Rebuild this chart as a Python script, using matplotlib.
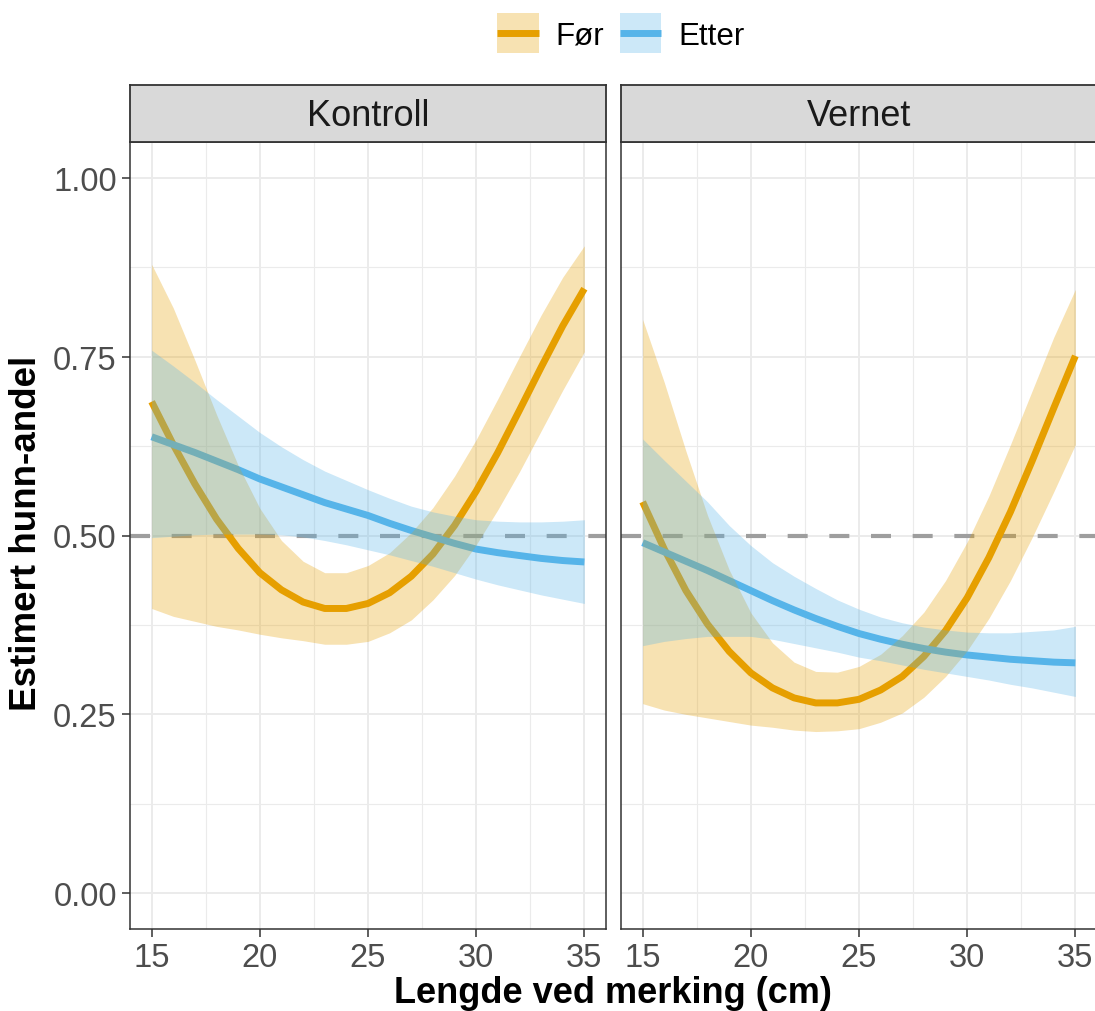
import matplotlib
matplotlib.use("Agg")
import matplotlib.pyplot as plt
from matplotlib.patches import Rectangle
from matplotlib.lines import Line2D
from matplotlib.legend_handler import HandlerBase

plt.rcParams['font.family'] = ['Liberation Sans', 'DejaVu Sans']

# lengde ved merking (cm)
lengde = [15, 16, 17, 18, 19, 20, 21, 22, 23, 24, 25,
          26, 27, 28, 29, 30, 31, 32, 33, 34, 35]

# Kontroll
kontroll_for = [0.687, 0.627, 0.572, 0.523, 0.482, 0.448, 0.424, 0.407, 0.398, 0.398, 0.405,
                0.420, 0.443, 0.474, 0.514, 0.562, 0.616, 0.675, 0.735, 0.793, 0.845]
kontroll_for_lo = [0.398, 0.387, 0.380, 0.373, 0.368, 0.362, 0.357, 0.353, 0.348, 0.348, 0.352,
                   0.364, 0.382, 0.410, 0.444, 0.487, 0.536, 0.589, 0.646, 0.703, 0.757]
kontroll_for_hi = [0.879, 0.818, 0.745, 0.669, 0.598, 0.538, 0.493, 0.464, 0.448, 0.448, 0.458,
                   0.476, 0.504, 0.539, 0.583, 0.634, 0.691, 0.750, 0.808, 0.861, 0.905]
kontroll_etter = [0.638, 0.627, 0.616, 0.604, 0.592, 0.579, 0.568, 0.557, 0.546, 0.537, 0.528,
                  0.517, 0.507, 0.498, 0.489, 0.481, 0.476, 0.472, 0.468, 0.465, 0.463]
kontroll_etter_lo = [0.497, 0.499, 0.501, 0.502, 0.502, 0.502, 0.501, 0.498, 0.493, 0.487, 0.480,
                     0.473, 0.465, 0.457, 0.448, 0.439, 0.431, 0.424, 0.417, 0.411, 0.405]
kontroll_etter_hi = [0.759, 0.737, 0.714, 0.690, 0.667, 0.644, 0.624, 0.606, 0.590, 0.577, 0.564,
                     0.552, 0.541, 0.533, 0.527, 0.522, 0.520, 0.519, 0.519, 0.520, 0.522]

# Vernet
vernet_for = [0.547, 0.481, 0.423, 0.376, 0.338, 0.308, 0.287, 0.273, 0.266, 0.266, 0.271,
              0.284, 0.303, 0.331, 0.367, 0.413, 0.469, 0.533, 0.604, 0.678, 0.751]
vernet_for_lo = [0.265, 0.256, 0.250, 0.245, 0.240, 0.235, 0.232, 0.228, 0.226, 0.227, 0.230,
                 0.239, 0.252, 0.274, 0.303, 0.339, 0.384, 0.437, 0.497, 0.561, 0.627]
vernet_for_hi = [0.802, 0.714, 0.618, 0.528, 0.452, 0.392, 0.350, 0.323, 0.310, 0.309, 0.317,
                 0.334, 0.360, 0.393, 0.437, 0.491, 0.555, 0.627, 0.702, 0.777, 0.844]
vernet_etter = [0.490, 0.477, 0.464, 0.451, 0.437, 0.423, 0.409, 0.396, 0.384, 0.373, 0.363,
                0.355, 0.348, 0.342, 0.337, 0.333, 0.330, 0.327, 0.325, 0.323, 0.322]
vernet_etter_lo = [0.346, 0.352, 0.356, 0.359, 0.359, 0.359, 0.355, 0.349, 0.343, 0.337, 0.330,
                   0.325, 0.319, 0.313, 0.308, 0.303, 0.298, 0.292, 0.287, 0.281, 0.275]
vernet_etter_hi = [0.635, 0.605, 0.576, 0.547, 0.514, 0.486, 0.462, 0.443, 0.426, 0.410, 0.397,
                   0.386, 0.378, 0.372, 0.368, 0.365, 0.364, 0.364, 0.366, 0.368, 0.373]

orange = "#E69F00"
blue = "#56B4E9"

W, H = 1095, 1012
fig = plt.figure(figsize=(W / 100, H / 100), dpi=100)


def box(x0, y0, x1, y1):
    return [x0 / W, 1 - y1 / H, (x1 - x0) / W, (y1 - y0) / H]


panels = [
    ("Kontroll", 130, kontroll_for, kontroll_for_lo, kontroll_for_hi,
     kontroll_etter, kontroll_etter_lo, kontroll_etter_hi),
    ("Vernet", 621, vernet_for, vernet_for_lo, vernet_for_hi,
     vernet_etter, vernet_etter_lo, vernet_etter_hi),
]

for i, (name, left, f, flo, fhi, e, elo, ehi) in enumerate(panels):
    ax = fig.add_axes(box(left, 143, left + 476, 930))
    ax.set_xlim(14, 36)
    ax.set_ylim(-0.05, 1.05)
    ax.set_xticks([15, 20, 25, 30, 35])
    ax.set_xticks([17.5, 22.5, 27.5, 32.5], minor=True)
    ax.set_yticks([0, 0.25, 0.5, 0.75, 1.0])
    ax.set_yticklabels(["0.00", "0.25", "0.50", "0.75", "1.00"])
    ax.set_yticks([0.125, 0.375, 0.625, 0.875], minor=True)
    ax.grid(which="major", color="#EBEBEB", lw=1.4)
    ax.grid(which="minor", color="#EBEBEB", lw=0.8)
    ax.set_axisbelow(True)
    ax.tick_params(which="minor", length=0)
    ax.tick_params(which="major", length=5.5, width=1.1, color="#333333",
                   labelcolor="#4D4D4D", labelsize=23.5, pad=4)
    for sp in ax.spines.values():
        sp.set_color("#333333")
        sp.set_linewidth(1.1)
    if i == 1:
        ax.tick_params(axis="y", left=False, labelleft=False)

    ax.axhline(0.5, color="#9E9E9E", lw=3, ls=(0, (4.8, 5.2)), zorder=1)
    ax.plot(lengde, f, color=orange, lw=5.0, solid_capstyle="butt", zorder=2)
    ax.plot(lengde, e, color=blue, lw=5.0, solid_capstyle="butt", zorder=2)
    ax.fill_between(lengde, flo, fhi, color=orange, alpha=0.3, lw=0, zorder=3)
    ax.fill_between(lengde, elo, ehi, color=blue, alpha=0.3, lw=0, zorder=3)

    sax = fig.add_axes(box(left, 86, left + 476, 143))
    sax.set_facecolor("#D9D9D9")
    sax.set_xticks([])
    sax.set_yticks([])
    for sp in sax.spines.values():
        sp.set_color("#333333")
        sp.set_linewidth(1.3)
    sax.text(0.5, 0.47, name, ha="center", va="center", fontsize=26,
             color="#1A1A1A", transform=sax.transAxes)

fig.text(613 / W, 1 - 1003 / H, "Lengde ved merking (cm)", ha="center",
         va="baseline", fontsize=26, fontweight="bold")
fig.text(27 / W, 1 - 533 / H, "Estimert hunn-andel", ha="center", va="center",
         rotation=90, fontsize=26.5, fontweight="bold")


class KeyHandler(HandlerBase):
    # ribbon square with the line through its middle, centred on the label
    def create_artists(self, legend, orig_handle, xdescent, ydescent,
                       width, height, fontsize, trans):
        c = orig_handle.get_color()
        yc = 0.36 * fontsize
        rect = Rectangle((-xdescent, yc - 14.4), width, 28.8, facecolor=c,
                         alpha=0.3, edgecolor="none", transform=trans)
        line = Line2D([-xdescent, -xdescent + width], [yc, yc], color=c,
                      lw=5.0, solid_capstyle="butt", transform=trans)
        return [rect, line]


handles = [Line2D([], [], color=orange), Line2D([], [], color=blue)]
fig.legend(handles=handles, labels=["Før", "Etter"],
           handler_map={Line2D: KeyHandler()},
           loc="center", bbox_to_anchor=(621 / W, 1 - 36 / H), ncol=2,
           frameon=False, fontsize=22.5, handlelength=1.32, handleheight=1.0,
           handletextpad=0.55, columnspacing=0.5, borderpad=0)

fig.savefig("out.png", dpi=100)
